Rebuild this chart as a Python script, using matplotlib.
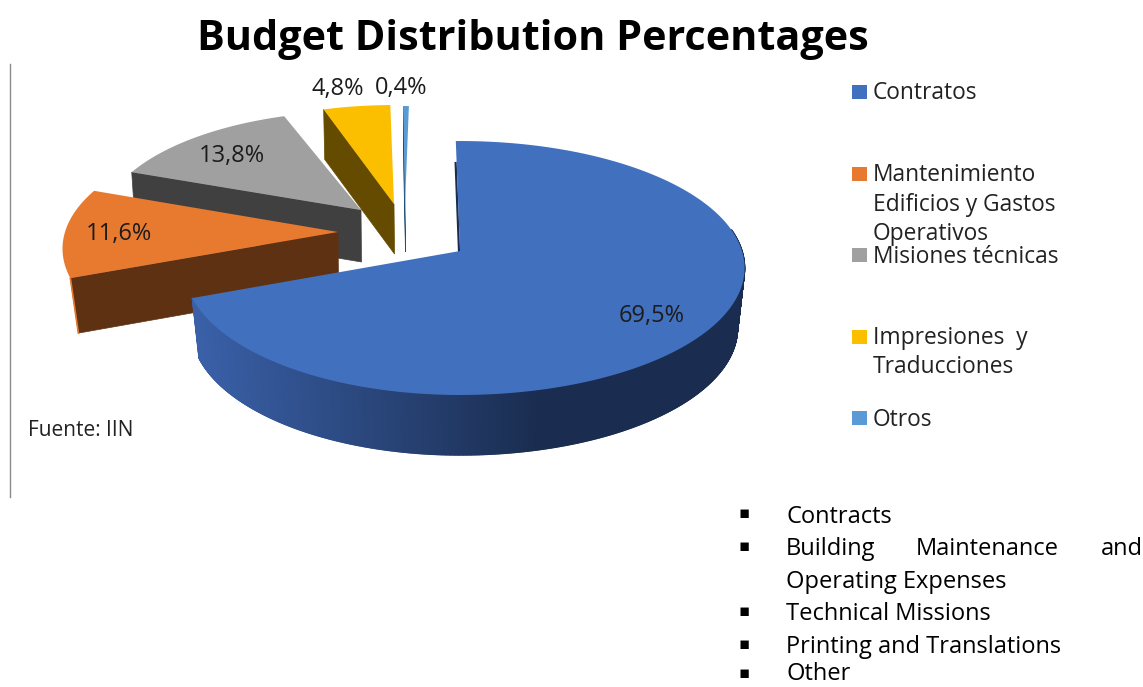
import numpy as np
import matplotlib
matplotlib.use("Agg")
import matplotlib.pyplot as plt
from matplotlib.collections import PolyCollection
from matplotlib.patches import Polygon, Rectangle

# ---- data ----
title = "Budget Distribution Percentages"
categories = ["Contratos", "Mantenimiento\nEdificios y Gastos\nOperativos",
              "Misiones técnicas", "Impresiones  y\nTraducciones", "Otros"]
values = [69.5, 11.6, 13.8, 4.8, 0.4]
source = "Fuente: IIN"
notes = ["Contracts", "Operating Expenses", "Technical Missions", "Printing and Translations", "Other"]
note_justified = ["Building", "Maintenance", "and"]

# ---- style / layout ----
top_colors = ["#4170BE", "#E87A30", "#A0A0A0", "#FBBF00", "#5B9BD5"]
wall_colors = ["#1A2D50", "#5F3113", "#404040", "#654B00", "#1F4E79"]
apex = [(460, 251), (338, 232), (361, 210), (394, 204), (405, 205)]
scale_x = [1.0, 1.0, 0.94, 0.93, 0.90]
scale_y = [1.0, 0.98, 0.90, 0.90, 0.90]
nudge = [-1.0, -1.0, -1.0, 0.5, 1.0]
depth = [60, 55, 52, 50, 47]
RX_R, RX_L, A, K = 282.0, 273.0, 124.7, 0.134
SHRINK = [0.975, 0.97, 0.985, 0.985, 0.985]
FONT = "Open Sans"

fig = plt.figure(figsize=(11.43, 6.87), dpi=100)
ax = fig.add_axes([0, 0, 1, 1])
ax.set_xlim(0, 1143)
ax.set_ylim(687, 0)
ax.axis("off")


def rim(theta_deg, ap, sx, sy):
    t = np.radians(theta_deg)
    u, v = np.sin(t), np.cos(t)
    f = 1.0 / (1.0 + K * v)
    rx = np.where(u > 0, RX_R, RX_L)
    return ap[0] + sx * rx * u * f, ap[1] - sy * A * v * f


def lower(x, y, ap, d, k):
    return ap[0] + (x - ap[0]) * k, y + d


fractions = np.array(values) / np.sum(values)
edges = 360 * np.concatenate([[0], np.cumsum(fractions)])
bounds = [(a + n, b + n) for a, b, n in zip(edges[:-1], edges[1:], nudge)]

order = [2, 3, 4, 1, 0]
for z, i in enumerate(order):
    a0, a1 = bounds[i]
    ap, sx, sy, d, k = apex[i], scale_x[i], scale_y[i], depth[i], SHRINK[i]
    th = np.linspace(a0, a1, 200)
    xs, ys = rim(th, ap, sx, sy)
    if i != 0:
        ex, ey = xs[0], ys[0]
        bx, by = lower(ex, ey, ap, d, k)
        ax.add_patch(Polygon([(ex, ey), (bx, by), (ap[0] + 0.5, ap[1] + d), ap],
                             closed=True, fc=wall_colors[i], ec=wall_colors[i], lw=0.5, zorder=z * 3 + 1))
    if i == 1:
        ex, ey = xs[0], ys[0]
        bx, by = lower(ex, ey, ap, d, k)
        ax.plot([ex, bx], [ey, by], color=top_colors[1], lw=1.2, zorder=z * 3 + 1)
    if i == 0:
        tw = np.linspace(max(a0, 80), a1, 700)
        wx, wy = rim(tw, ap, sx, sy)
        bx, by = lower(wx, wy, ap, d, k)
        quads, cols = [], []
        c_dark = np.array(matplotlib.colors.to_rgb("#1A2D50"))
        c_light = np.array(matplotlib.colors.to_rgb("#3A60A8"))
        for j in range(len(tw) - 1):
            quads.append([(wx[j], wy[j]), (wx[j + 1], wy[j + 1]), (bx[j + 1], by[j + 1]), (bx[j], by[j])])
            m = np.clip((540 - wx[j]) / (540 - 195), 0, 1)
            cols.append(c_dark + (c_light - c_dark) * m)
        ax.add_collection(PolyCollection(quads, facecolors=cols, edgecolors=cols, linewidths=1.0, zorder=z * 3 + 1))
        px = np.array([xs[0] + (ap[0] - xs[0]) * 0.2, ap[0]])
        py = np.array([ys[0] + (ap[1] - ys[0]) * 0.2, ap[1]])
        ax.plot(px - 1.0, py, color=wall_colors[0], lw=1.6, zorder=z * 3 + 1)
    ax.add_patch(Polygon(np.vstack([[ap], np.column_stack([xs, ys])]), closed=True,
                         fc=top_colors[i], ec="none", zorder=z * 3 + 2))

# data labels
label_pos = [(652, 316), (119, 234), (232, 156), (338, 89), (401, 88)]
for v, (x, y) in zip(values, label_pos):
    ax.text(x, y, f"{v:.1f}%".replace(".", ","), ha="center", va="center",
            fontsize=17, family=FONT, color="#1c1c1c", zorder=50)

# legend
swatch_y = [92, 174, 255, 337, 418]
leg_lines = [[93], [175, 205, 234], [257], [338, 367], [420]]
for cat, c, sy, ly in zip(categories, top_colors, swatch_y, leg_lines):
    ax.add_patch(Rectangle((852, sy - 7), 15, 14, fc=c, ec="none", zorder=5))
    for line, yy in zip(cat.split("\n"), ly):
        ax.text(873, yy, line, ha="left", va="center", fontsize=16.4, family=FONT, color="#222222")

ax.text(28, 430, source, ha="left", va="center", fontsize=15, family=FONT, color="#222222")
ax.plot([9.5, 9.5], [64, 497], color="#8a8a8a", lw=1.0)

ax.text(533, 39, title, ha="center", va="center", fontsize=29.8, family=FONT, weight="bold", color="black")

# bottom list
bullet_y = [513, 546, 611, 644, 673]
text_y = [523, 588, 620, 653, 680]
for y in bullet_y:
    ax.text(744, y, "▪", ha="center", va="center", fontsize=12, family="DejaVu Sans", color="black")
for t, y in zip(notes, text_y):
    ax.text(786, y, t, ha="left", va="baseline", fontsize=17, family=FONT, color="black")
for t, x in zip(note_justified, [786, 916, 1101]):
    ax.text(x, 555, t, ha="left", va="baseline", fontsize=17, family=FONT, color="black")

fig.savefig("out.png", dpi=100)
